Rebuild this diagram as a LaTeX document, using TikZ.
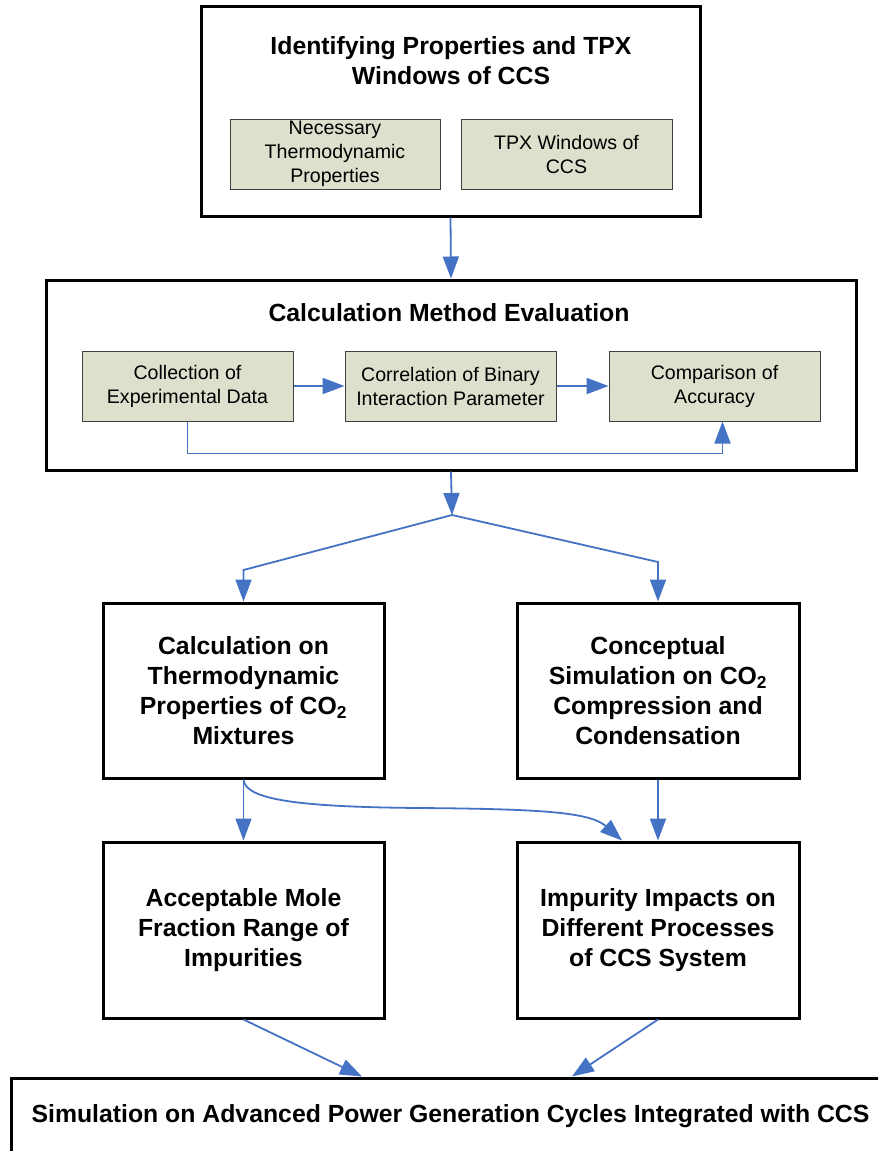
\documentclass[tikz,border=0pt]{standalone}
\usepackage{fontspec}
\setmainfont{Liberation Sans}
\usetikzlibrary{arrows.meta,calc}
\definecolor{arrowblue}{RGB}{68,114,196}
\definecolor{innerfill}{RGB}{221,224,204}
\definecolor{innerline}{RGB}{64,64,64}
\begin{document}
\begin{tikzpicture}[x=1pt,y=-1pt,
  bigbox/.style={draw=black, line width=3pt, fill=white, inner sep=0pt, align=center},
  subbox/.style={draw=innerline, line width=1pt, fill=innerfill, inner sep=0pt, align=center,
    minimum width=211pt, minimum height=70pt},
  titletext/.style={font=\fontsize{24.8}{30}\selectfont\bfseries, align=center},
  subtextA/.style={font=\fontsize{19.6}{24}\selectfont},
  subtextB/.style={font=\fontsize{19.6}{24}\selectfont},
  conn/.style={draw=arrowblue, line width=1.8pt, -{Triangle[length=22pt,width=16pt]}},
  stagebox/.style={bigbox, minimum width=281pt, minimum height=175pt, titletext}
]
\useasboundingbox (0,0) rectangle (878,1151);
\clip (0,0) rectangle (878,1151);
\fill[white] (0,0) rectangle (878,1151);

% top box
\node[bigbox, minimum width=499pt, minimum height=210pt] (top) at (450.5,111) {};
\node[titletext] (toptitle) at (451,61) {Identifying Properties and TPX\\Windows of CCS};
\node[subbox, subtextA, minimum width=210pt] (nec) at (335,154) {Necessary\\Thermodynamic\\Properties};
\node[subbox, subtextA] (tpx) at (566.5,154) {TPX Windows of\\CCS};

% calculation method box
\node[bigbox, minimum width=810pt, minimum height=190pt] (calc) at (451,375) {};
\node[titletext] (calctitle) at (449,313) {Calculation Method Evaluation};
\node[subbox, subtextB] (coll) at (187.5,386) {Collection of\\Experimental Data};
\node[subbox, subtextB] (corr) at (450.5,386) {Correlation of Binary\\Interaction Parameter};
\node[subbox, subtextB] (comp) at (714.5,386) {Comparison of\\Accuracy};

\draw[conn] (top.south) -- (calc.north);
\draw[conn] (coll) -- (corr);
\draw[conn] (corr) -- (comp);
\draw[conn] (coll.south) -- ++(0,32) -| ([xshift=8pt]comp.south);

% split
\coordinate (j) at (452,515);
\coordinate (jl) at (243.5,570);
\coordinate (jr) at (658,562);

\node[stagebox] (calcprop) at (243.5,690.5) {Calculation on\\Thermodynamic\\Properties of CO\textsubscript{2}\\Mixtures};
\node[stagebox, minimum width=282pt] (concept) at (658,690.5) {Conceptual\\Simulation on CO\textsubscript{2}\\Compression and\\Condensation};
\node[stagebox, minimum height=176pt] (accept) at (243.5,930) {Acceptable Mole\\Fraction Range of\\Impurities};
\node[stagebox, minimum width=282pt, minimum height=176pt] (impact) at (658,930) {Impurity Impacts on\\Different Processes\\of CCS System};

\draw[conn] (calc.south) -- (j);
\draw[conn] (j) -- (jl) -- (calcprop.north);
\draw[conn] (j) -- (jr) -- (concept.north);

\draw[conn] (calcprop.south) -- (accept.north);
\draw[conn] (concept.south) -- (impact.north);
\draw[conn] (calcprop.south) .. controls (245,800) and (300,807) .. (420,808)
  .. controls (540,809) and (590,812) .. ([xshift=-36pt]impact.north);

% bottom box
\node[bigbox, titletext, minimum width=879pt, minimum height=76pt] (sim) at (450.5,1116)
  {Simulation on Advanced Power Generation Cycles Integrated with CCS};

\draw[conn] (accept.south) -- ([xshift=-88.5pt]sim.north);
\draw[conn] (impact.south) -- ([xshift=121.5pt]sim.north);
\end{tikzpicture}
\end{document}
